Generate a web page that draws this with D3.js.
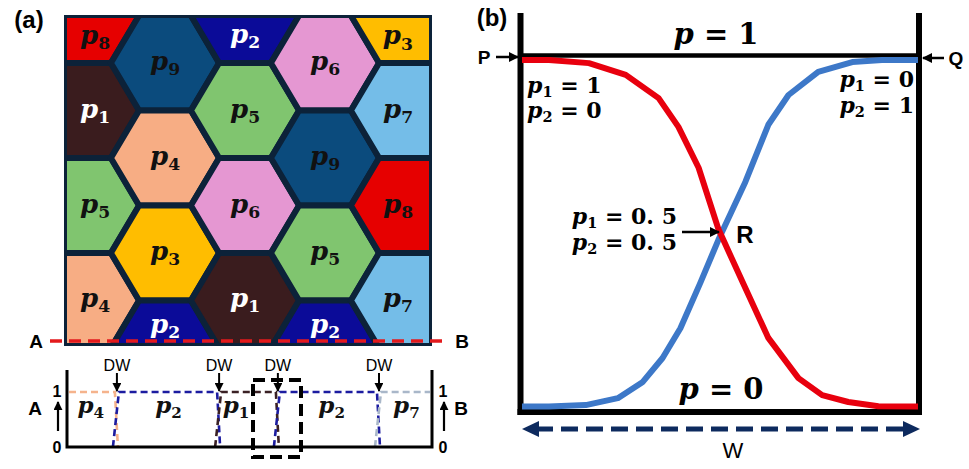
<!DOCTYPE html>
<html>
<head>
<meta charset="utf-8">
<script src="https://cdn.jsdelivr.net/npm/d3@7"></script>
<style>
  body { margin: 0; background: #fff; }
  svg { display: block; }
</style>
</head>
<body>
<svg id="fig" width="969" height="469"></svg>
<script>
// ---- data ----------------------------------------------------------
// Phase carried by each grain, listed column by column, top to bottom.
const cellColumns = [
  ["p8", "p1", "p5", "p4"],
  ["p9", "p4", "p3", "p2"],
  ["p2", "p5", "p6", "p1"],
  ["p6", "p9", "p5", "p2"],
  ["p3", "p7", "p8", "p7"]
];
const phaseColors = {
  p1: "#3a1c1e", p2: "#0b0b98", p3: "#ffbd00", p4: "#f7ad84", p5: "#80c56f",
  p6: "#e597d2", p7: "#74bde8", p8: "#e60000", p9: "#0b4b7d"
};
const lightLabelPhases = ["p1", "p2"];

// Phase profile along the line A-B (positions as fraction of A-B).
const profilePhases = ["p4", "p2", "p1", "p2", "p7"];
const wallPositions = [0.134, 0.414, 0.575, 0.852];
const profileLabelPos = [0.065, 0.278, 0.463, 0.725, 0.93];
const profileColors = { p4: "#f5b38c", p2: "#1c1ca0", p1: "#3a2024", p7: "#a9b7c9" };

// Order parameters across the diffuse interface of width W.
const p1Pos = [0, 0.068, 0.169, 0.262, 0.345, 0.395, 0.446, 0.496, 0.557, 0.622, 0.698, 0.758, 0.824, 0.900, 1];
const p1Val = [1, 1, 0.991, 0.957, 0.890, 0.807, 0.689, 0.512, 0.359, 0.198, 0.082, 0.033, 0.013, 0.001, 0];
const p2Pos = [0, 0.068, 0.161, 0.242, 0.305, 0.355, 0.400, 0.450, 0.496, 0.564, 0.622, 0.673, 0.748, 0.834, 0.909, 1];
const p2Val = [0, 0, 0.004, 0.024, 0.071, 0.140, 0.226, 0.356, 0.481, 0.648, 0.813, 0.899, 0.966, 0.994, 1, 1];

// ---- helpers -------------------------------------------------------
const svg = d3.select("#fig");
const SERIF = "'DejaVu Serif', 'Liberation Serif', serif";
const SANS = "'Liberation Sans', Arial, sans-serif";

const defs = svg.append("defs");
function addHead(id, size, color) {
  defs.append("marker").attr("id", id)
    .attr("viewBox", "0 0 10 10").attr("refX", 9).attr("refY", 5)
    .attr("markerWidth", size).attr("markerHeight", size)
    .attr("markerUnits", "userSpaceOnUse").attr("orient", "auto")
    .append("path").attr("d", "M0,0L10,5L0,10Z").attr("fill", color);
}
addHead("head", 10, "#000");
addHead("headSmall", 9, "#000");

// italic symbol + subscript + trailing text, in the math style
function mathText(parent, x, y, sym, sub, rest, size, anchor, fill) {
  const t = parent.append("text")
    .attr("x", x).attr("y", y)
    .attr("text-anchor", anchor || "middle")
    .attr("font-family", SERIF).attr("font-weight", "bold")
    .attr("font-size", size).attr("fill", fill || "#000")
    .style("white-space", "pre");
  t.append("tspan").attr("font-style", "italic").text(sym);
  if (sub) {
    t.append("tspan").attr("font-size", size * 0.66).attr("dy", size * 0.2).text(sub);
  }
  if (rest) {
    t.append("tspan").attr("dy", sub ? -size * 0.2 : 0).text(rest);
  }
  return t;
}

function sansText(x, y, s, size, weight) {
  return svg.append("text").attr("x", x).attr("y", y)
    .attr("text-anchor", "middle").attr("dominant-baseline", "central")
    .attr("font-family", SANS).attr("font-weight", weight || "bold")
    .attr("font-size", size).attr("fill", "#000").text(s);
}

function arrow(x1, y1, x2, y2, w, head) {
  svg.append("line").attr("x1", x1).attr("y1", y1).attr("x2", x2).attr("y2", y2)
    .attr("stroke", "#000").attr("stroke-width", w)
    .attr("marker-end", `url(#${head || "head"})`);
}

// ---- (a) grain map -------------------------------------------------
const frame = { x0: 64, y0: 15, x1: 432, y1: 346 };
const colX = d3.scaleLinear().domain([0, 4]).range([85, 405]);
const rowY = d3.scaleLinear().domain([0, 1]).range([15.5, 110.5]);

const grains = [];
cellColumns.forEach((col, c) => {
  col.forEach((phase, r) => {
    grains.push({ phase, x: colX(c), y: rowY(r + (c % 2) * 0.5) });
  });
});

defs.append("clipPath").attr("id", "mapClip").append("rect")
  .attr("x", frame.x0).attr("y", frame.y0)
  .attr("width", frame.x1 - frame.x0).attr("height", frame.y1 - frame.y0);

const voronoi = d3.Delaunay.from(grains, d => d.x, d => d.y)
  .voronoi([frame.x0, frame.y0, frame.x1, frame.y1]);

const mapG = svg.append("g").attr("clip-path", "url(#mapClip)");
mapG.selectAll("path.grain").data(grains).join("path")
  .attr("class", "grain")
  .attr("d", (d, i) => voronoi.renderCell(i))
  .attr("fill", d => phaseColors[d.phase])
  .attr("stroke", "#0c2239").attr("stroke-width", 6)
  .attr("stroke-linejoin", "miter");

svg.append("rect").attr("x", frame.x0 + 1).attr("y", frame.y0 + 1)
  .attr("width", frame.x1 - frame.x0 - 2).attr("height", frame.y1 - frame.y0 - 2)
  .attr("fill", "none").attr("stroke", "#0c2239").attr("stroke-width", 2);

grains.forEach((d, i) => {
  const poly = voronoi.cellPolygon(i);
  const [cx, cy] = d3.polygonCentroid(poly.slice(0, -1));
  mathText(svg, cx, cy + 7, "p", d.phase.slice(1), null, 26, "middle",
    lightLabelPhases.includes(d.phase) ? "#fff" : "#111");
});

// line A-B
svg.append("line").attr("x1", 50).attr("y1", 341).attr("x2", 444).attr("y2", 341)
  .attr("stroke", "#e31a1c").attr("stroke-width", 3.5).attr("stroke-dasharray", "12 7");
sansText(36, 341, "A", 19);
sansText(462, 341, "B", 19);

// ---- (a) profile along A-B ----------------------------------------
const px = d3.scaleLinear().domain([0, 1]).range([67, 432]);
const py = d3.scaleLinear().domain([0, 1]).range([447, 392]);

const bounds = [0, ...wallPositions, 1];
profilePhases.forEach((phase, i) => {
  const a = bounds[i], b = bounds[i + 1];
  const pts = [];
  if (a === 0) pts.push([px(a) + 2, py(1)]);
  else { pts.push([px(a) - 3, py(0)]); pts.push([px(a) + 3, py(1)]); }
  if (b === 1) pts.push([px(b) - 2, py(1)]);
  else { pts.push([px(b) - 1, py(1)]); pts.push([px(b) + 2, py(0)]); }
  svg.append("path").attr("d", d3.line()(pts))
    .attr("fill", "none").attr("stroke", profileColors[phase])
    .attr("stroke-width", 2.6).attr("stroke-dasharray", "7 4");
  mathText(svg, px(profileLabelPos[i]), 413, "p", phase.slice(1), null, 23, "middle", "#111");
});

// axes of the profile
svg.append("path")
  .attr("d", `M${px(0)},370V${py(0)}H${px(1)}V370`)
  .attr("fill", "none").attr("stroke", "#000").attr("stroke-width", 3);

sansText(57, 391, "1", 16);
sansText(57, 447, "0", 16);
sansText(443, 391, "1", 16);
sansText(443, 447, "0", 16);
arrow(58, 431, 58, 402, 2.2, "headSmall");
arrow(444, 431, 444, 402, 2.2, "headSmall");
sansText(35, 408, "A", 19);
sansText(461, 408, "B", 19);

wallPositions.forEach(w => {
  sansText(px(w) + 1, 365, "DW", 16, "normal");
  arrow(px(w) + 1, 373, px(w) + 1, 391, 2, "headSmall");
});

svg.append("rect").attr("x", 253).attr("y", 380).attr("width", 48).attr("height", 77)
  .attr("fill", "none").attr("stroke", "#000").attr("stroke-width", 4)
  .attr("stroke-dasharray", "12 6");

// ---- (b) order-parameter profiles ----------------------------------
const bx = d3.scaleLinear().domain([0, 1]).range([522, 918]);
const by = d3.scaleLinear().domain([0, 1]).range([406.5, 60]);

// box: p = 1 on top, p = 0 at the bottom
svg.append("line").attr("x1", 520).attr("y1", 55.5).attr("x2", 919).attr("y2", 55.5)
  .attr("stroke", "#000").attr("stroke-width", 4.5);
svg.append("line").attr("x1", 520.5).attr("y1", 13).attr("x2", 520.5).attr("y2", 415)
  .attr("stroke", "#000").attr("stroke-width", 6);
svg.append("line").attr("x1", 919).attr("y1", 13).attr("x2", 919).attr("y2", 415)
  .attr("stroke", "#000").attr("stroke-width", 6);
svg.append("line").attr("x1", 517.5).attr("y1", 412).attr("x2", 922).attr("y2", 412)
  .attr("stroke", "#000").attr("stroke-width", 6);

const curve = d3.line().x(d => bx(d[0])).y(d => by(d[1]));
svg.append("path").attr("d", curve(d3.zip(p2Pos, p2Val)))
  .attr("fill", "none").attr("stroke", "#3d78c8").attr("stroke-width", 6)
  .attr("stroke-linejoin", "round");
svg.append("path").attr("d", curve(d3.zip(p1Pos, p1Val)))
  .attr("fill", "none").attr("stroke", "#e8000e").attr("stroke-width", 6)
  .attr("stroke-linejoin", "round");

mathText(svg, 716, 44, "p", null, " = 1", 29, "middle");
mathText(svg, 721, 399, "p", null, " = 0", 29, "middle");

mathText(svg, 527, 93, "p", "1", " = 1", 22, "start");
mathText(svg, 527, 118, "p", "2", " = 0", 22, "start");
mathText(svg, 914, 87, "p", "1", " = 0", 22, "end");
mathText(svg, 914, 113, "p", "2", " = 1", 22, "end");
mathText(svg, 677, 224, "p", "1", " = 0. 5", 22, "end");
mathText(svg, 677, 250, "p", "2", " = 0. 5", 22, "end");

arrow(682, 232, 719, 232, 2.5, "head");
sansText(745, 234, "R", 24);

sansText(484, 57, "P", 19);
arrow(496, 57, 518, 57, 2.5, "head");
sansText(956, 58, "Q", 19);
arrow(944, 58, 923, 58, 2.5, "head");

// width of the interface
svg.append("line").attr("x1", 536).attr("y1", 429).attr("x2", 906).attr("y2", 429)
  .attr("stroke", "#0d2a5e").attr("stroke-width", 5).attr("stroke-dasharray", "17 8");
svg.append("path").attr("d", "M522,429L539,421L539,437Z").attr("fill", "#0d2a5e");
svg.append("path").attr("d", "M920,429L903,421L903,437Z").attr("fill", "#0d2a5e");
sansText(733, 450, "W", 22, "normal");

// panel tags
sansText(29, 19, "(a)", 24);
sansText(492, 17, "(b)", 24);
</script>
</body>
</html>
